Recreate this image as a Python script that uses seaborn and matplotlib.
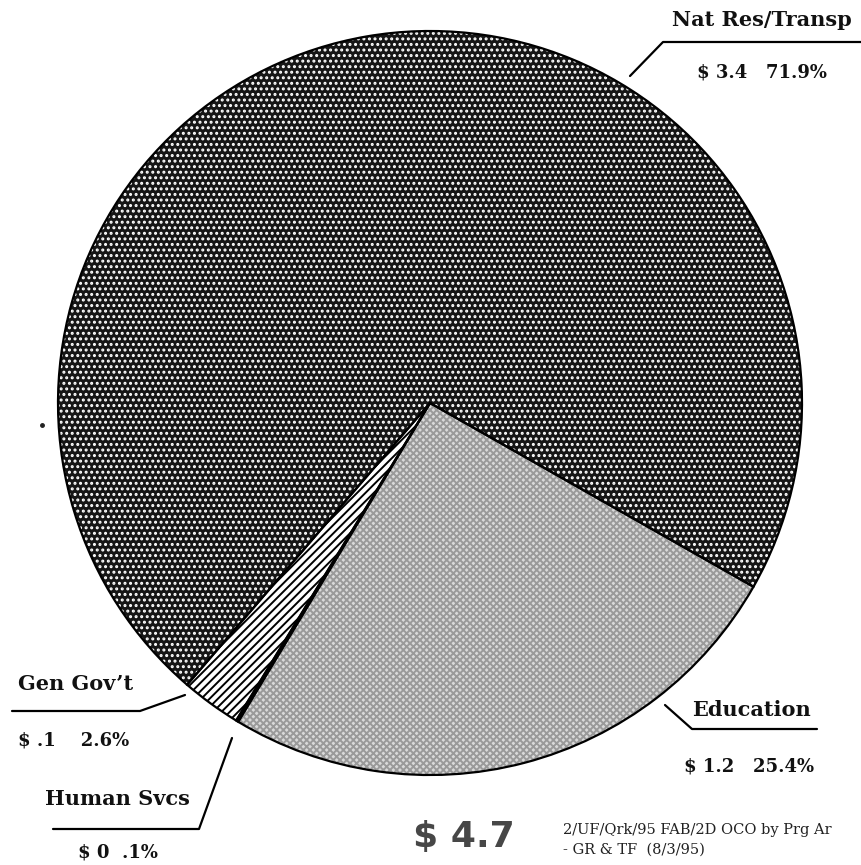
import matplotlib.pyplot as plt
import seaborn as sns

# budget split, in billions of dollars and percent of total
categories = ['Education', 'Human Svcs', 'Gen Gov’t', 'Nat Res/Transp']
amounts = ['1.2', '0', '.1', '3.4']
shares = [25.4, 0.1, 2.6, 71.9]
total = '4.7'

W, H = 861, 865


def Y(y):
    # convert image-style y (from top) to data y
    return H - y


def generate_pie():
    sns.set_theme(style="white")
    plt.rcParams['font.family'] = ['DejaVu Serif']
    plt.rcParams['hatch.linewidth'] = 1.4

    fig = plt.figure(figsize=(W / 100, H / 100), dpi=100)
    ax = fig.add_axes([0, 0, 1, 1])

    center = (430, Y(403))
    radius = 372
    fills = ['#dadada', '#333333', 'white', '#161616']
    hatches = ['xxxxx', '', '////', '...']
    hatch_cols = ['#9a9a9a', '#333333', 'black', 'white']

    # filled + hatched wedges
    wedges, _ = ax.pie(shares, colors=fills, startangle=-29.6, counterclock=False,
                       center=center, radius=radius,
                       wedgeprops=dict(linewidth=0))
    for w, h, c in zip(wedges, hatches, hatch_cols):
        w.set_hatch(h)
        w.set_edgecolor(c)
        w.set_linewidth(0)

    # outlines on top
    ax.pie(shares, colors=['none'] * 4, startangle=-29.6, counterclock=False,
           center=center, radius=radius,
           wedgeprops=dict(edgecolor='black', linewidth=1.6, fill=False))

    ax.set_xlim(0, W)
    ax.set_ylim(0, H)
    ax.set_aspect('auto')
    ax.axis('off')

    name = dict(fontsize=15, fontweight='bold', color='#111111', va='center', ha='left')
    num = dict(fontsize=13, fontweight='bold', color='#111111', va='center', ha='left')
    lw = 1.6

    # Nat Res/Transp
    ax.text(672, Y(20), categories[3], **name)
    ax.plot([630, 663, W], [Y(76), Y(42), Y(42)], color='black', lw=lw)
    ax.text(697, Y(73), f'$ {amounts[3]}   {shares[3]}%', **num)

    # Education
    ax.text(692, Y(710), categories[0], **name)
    ax.plot([665, 692, 817], [Y(705), Y(729), Y(729)], color='black', lw=lw)
    ax.text(684, Y(766), f'$ {amounts[0]}   {shares[0]}%', **num)

    # Gen Gov't
    ax.text(18, Y(684), categories[2], **name)
    ax.plot([12, 140, 185], [Y(711), Y(711), Y(695)], color='black', lw=lw)
    ax.text(18, Y(740), f'$ {amounts[2]}    {shares[2]}%', **num)

    # Human Svcs
    ax.text(45, Y(799), categories[1], **name)
    ax.plot([53, 199, 232], [Y(829), Y(829), Y(738)], color='black', lw=lw)
    ax.text(78, Y(853), f'$ {amounts[1]}  .1%', **num)

    # stray speck left of the pie
    ax.plot([42], [Y(425)], marker='o', ms=2.5, color='#222222')

    # total and footer
    ax.text(413, Y(837), f'$ {total}', fontsize=26, fontweight='bold',
            family='DejaVu Sans', color='#474747', va='center', ha='left')
    ax.text(563, Y(830), '2/UF/Qrk/95 FAB/2D OCO by Prg Ar', fontsize=10.5,
            color='#222222', va='center', ha='left')
    ax.text(563, Y(850), '- GR & TF  (8/3/95)', fontsize=10.5,
            color='#222222', va='center', ha='left')

    fig.savefig('out.png', dpi=100)


if __name__ == "__main__":
    generate_pie()
